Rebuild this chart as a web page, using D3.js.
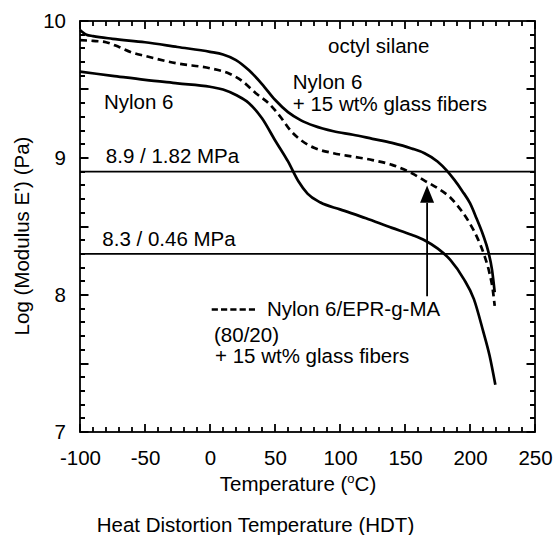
<!DOCTYPE html>
<html>
<head>
<meta charset="utf-8">
<script src="https://cdn.jsdelivr.net/npm/d3@7"></script>
<style>
  html, body { margin: 0; padding: 0; background: #fff; }
  svg { display: block; }
</style>
</head>
<body>
<svg id="chart" width="553" height="535"></svg>
<script>
// ---------------- DATA ----------------
const xTickValues = [-100, -50, 0, 50, 100, 150, 200, 250];
const xTickLabels = ["-100", "-50", "0", "50", "100", "150", "200", "250"];
const yTickValues = [7, 8, 9, 10];
const yTickLabels = ["7", "8", "9", "10"];

// Nylon 6 + 15 wt% glass fibers (upper solid)
const tempGF = [-100, -95, -90, -75, -50, -25, 0, 10, 20, 30, 40, 50, 60, 70, 80, 95, 110, 125, 140, 155, 165, 175, 182, 188, 194, 200, 205, 210, 214, 217, 219];
const logEGF = [9.935, 9.90, 9.89, 9.87, 9.845, 9.81, 9.775, 9.755, 9.715, 9.64, 9.54, 9.425, 9.335, 9.275, 9.235, 9.195, 9.17, 9.14, 9.11, 9.07, 9.035, 8.975, 8.91, 8.84, 8.76, 8.67, 8.56, 8.44, 8.32, 8.18, 8.02];

// Nylon 6/EPR-g-MA (80/20) + 15 wt% glass fibers (dashed)
const tempEPR = [-100, -90, -80, -70, -60, -50, -25, 0, 15, 25, 35, 45, 55, 62, 70, 80, 95, 110, 125, 140, 155, 165, 175, 185, 193, 200, 206, 211, 215, 217.5, 219];
const logEEPR = [9.86, 9.855, 9.845, 9.81, 9.77, 9.745, 9.69, 9.655, 9.615, 9.56, 9.475, 9.40, 9.29, 9.20, 9.13, 9.075, 9.035, 9.01, 8.985, 8.95, 8.89, 8.835, 8.78, 8.71, 8.62, 8.52, 8.41, 8.29, 8.16, 8.04, 7.92];

// Nylon 6 (lower solid)
const tempN6 = [-100, -75, -50, -25, 0, 10, 20, 30, 40, 50, 60, 68, 75, 85, 100, 120, 140, 155, 165, 175, 185, 195, 203, 210, 215, 219.5];
const logEN6 = [9.63, 9.60, 9.57, 9.545, 9.52, 9.50, 9.46, 9.40, 9.29, 9.13, 8.975, 8.83, 8.74, 8.675, 8.625, 8.56, 8.49, 8.44, 8.40, 8.34, 8.255, 8.12, 7.97, 7.74, 7.56, 7.345];

// HDT reference levels
const hdtLevels = [8.9, 8.3];
const hdtLabels = ["8.9 / 1.82 MPa", "8.3 / 0.46 MPa"];

// HDT arrow (temperature, from log E, to log E)
const arrowTemp = 167;
const arrowFrom = 7.99;
const arrowTo = 8.80;

// ---------------- DRAW ----------------
(function () {
const FONT = "'Liberation Sans', Arial, Helvetica, sans-serif";
const FS = 20.5;
const svg = d3.select("#chart");
svg.append("rect").attr("width", 553).attr("height", 535).attr("fill", "#fff");

const pL = 80, pR = 535, pT = 21, pB = 432;
const x = d3.scaleLinear().domain([-100, 250]).range([pL, pR]);
const y = d3.scaleLinear().domain([7, 10]).range([pB, pT]);

const g = svg.append("g").attr("font-family", FONT).attr("font-size", FS);

const xMinor = d3.range(-100, 251, 10).filter(v => v % 50 !== 0);
const yAll = d3.range(70, 101, 1).map(v => v / 10);
const yMinor = yAll.filter(v => Math.abs(v * 2 - Math.round(v * 2)) > 1e-6);
const yMedium = [7.5, 8.5, 9.5];

function styleAxis(sel) {
  sel.select(".domain").remove();
  sel.selectAll(".tick line").remove();
  sel.attr("font-family", FONT).attr("font-size", FS);
  sel.selectAll("text").attr("fill", "#000");
}

// tick labels via d3 axes
g.append("g").attr("transform", `translate(0,${pB})`)
  .call(d3.axisBottom(x).tickValues(xTickValues).tickSize(0).tickPadding(18)
    .tickFormat((d, i) => xTickLabels[i])).call(styleAxis);
g.append("g").attr("transform", `translate(${pL},0)`)
  .call(d3.axisLeft(y).tickValues(yTickValues).tickSize(0).tickPadding(14)
    .tickFormat((d, i) => yTickLabels[i])).call(styleAxis);

// tick marks (inward, all four sides) drawn as one path
const xMarks = xTickValues.map(v => [v, 8]).concat(xMinor.map(v => [v, 5]));
const yMarks = yTickValues.map(v => [v, 8.5]).concat(yMedium.map(v => [v, 8.5]), yMinor.map(v => [v, 5]));
const p = d3.path();
xMarks.forEach(([v, len]) => {
  const px = Math.round(x(v));
  p.moveTo(px, pB); p.lineTo(px, pB - len);
  p.moveTo(px, pT); p.lineTo(px, pT + len);
});
yMarks.forEach(([v, len]) => {
  const py = Math.round(y(v));
  p.moveTo(pL, py); p.lineTo(pL + len, py);
  p.moveTo(pR, py); p.lineTo(pR - len, py);
});
g.append("path").attr("d", p.toString()).attr("fill", "none")
  .attr("stroke", "#000").attr("stroke-width", 1.8);

// frame
g.append("rect").attr("x", pL).attr("y", pT).attr("width", pR - pL).attr("height", pB - pT)
  .attr("fill", "none").attr("stroke", "#000").attr("stroke-width", 1.8);

// HDT horizontal lines
g.selectAll(".hdt").data(hdtLevels).enter().append("line")
  .attr("x1", pL).attr("x2", pR)
  .attr("y1", d => y(d)).attr("y2", d => y(d))
  .attr("stroke", "#000").attr("stroke-width", 1.7);

// curves
const line = d3.line().x(d => x(d[0])).y(d => y(d[1])).curve(d3.curveMonotoneX);
const series = [
  { t: tempGF, v: logEGF, dash: null },
  { t: tempEPR, v: logEEPR, dash: "7,4.5" },
  { t: tempN6, v: logEN6, dash: null }
];
series.forEach(s => {
  g.append("path").datum(s.t.map((t, i) => [t, s.v[i]]))
    .attr("d", line).attr("fill", "none").attr("stroke", "#000")
    .attr("stroke-width", 2.7).attr("stroke-dasharray", s.dash);
});

// arrow
const ax = x(arrowTemp), tipY = y(arrowTo), baseY = tipY + 17.4;
g.append("line").attr("x1", ax).attr("x2", ax).attr("y1", y(arrowFrom)).attr("y2", baseY)
  .attr("stroke", "#000").attr("stroke-width", 1.8);
g.append("path").attr("d", `M${ax},${tipY} L${ax - 7},${baseY} L${ax + 7},${baseY} Z`).attr("fill", "#000");

// text annotations
function txt(s, px, py, anchor) {
  return g.append("text").attr("x", px).attr("y", py).attr("text-anchor", anchor || "start")
    .attr("fill", "#000").text(s);
}
txt("octyl silane", 328, 53);
txt("Nylon 6", 292.8, 89);
txt("+ 15 wt% glass fibers", 292.8, 111);
txt("Nylon 6", 104, 108.5);
txt(hdtLabels[0], 105.8, 163);
txt(hdtLabels[1], 102.3, 245.5);

// legend for dashed
g.append("line").attr("x1", 211.7).attr("x2", 255).attr("y1", 309.5).attr("y2", 309.5)
  .attr("stroke", "#000").attr("stroke-width", 2.3).attr("stroke-dasharray", "6.2,3.1");
txt("Nylon 6/EPR-g-MA", 267, 316);
txt("(80/20)", 214, 341.5);
txt("+ 15 wt% glass fibers", 215, 363);

// axis titles
const xt = g.append("text").attr("x", 298).attr("y", 491.4).attr("text-anchor", "middle").attr("fill", "#000");
xt.append("tspan").text("Temperature (");
xt.append("tspan").attr("font-size", 13).attr("dy", -8).text("o");
xt.append("tspan").attr("dy", 8).text("C)");

g.append("text").attr("transform", "translate(28.5,236) rotate(-90)").attr("text-anchor", "middle")
  .attr("fill", "#000").text("Log (Modulus E') (Pa)");

g.append("text").attr("x", 255.5).attr("y", 532).attr("text-anchor", "middle").attr("fill", "#000")
  .text("Heat Distortion Temperature (HDT)");
})();
</script>
</body>
</html>
